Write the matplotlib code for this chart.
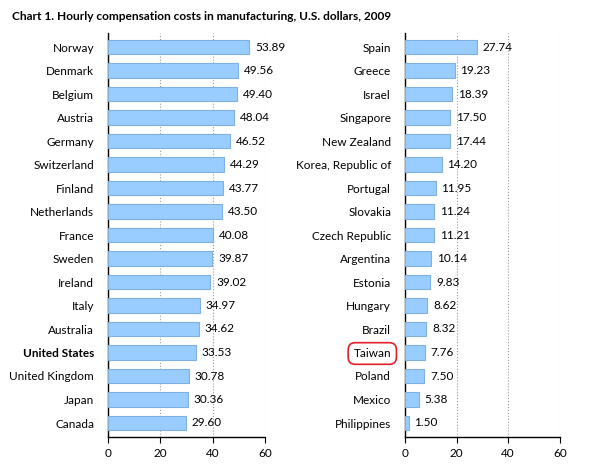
import matplotlib.pyplot as plt

plt.rcParams['font.family'] = ['Lato', 'DejaVu Sans']

# Data
left_countries = ["Norway", "Denmark", "Belgium", "Austria", "Germany", "Switzerland",
                  "Finland", "Netherlands", "France", "Sweden", "Ireland", "Italy",
                  "Australia", "United States", "United Kingdom", "Japan", "Canada"]
left_values = [53.89, 49.56, 49.40, 48.04, 46.52, 44.29, 43.77, 43.50, 40.08, 39.87,
               39.02, 34.97, 34.62, 33.53, 30.78, 30.36, 29.60]

right_countries = ["Spain", "Greece", "Israel", "Singapore", "New Zealand", "Korea, Republic of",
                   "Portugal", "Slovakia", "Czech Republic", "Argentina", "Estonia", "Hungary",
                   "Brazil", "Taiwan", "Poland", "Mexico", "Philippines"]
right_values = [27.74, 19.23, 18.39, 17.50, 17.44, 14.20, 11.95, 11.24, 11.21, 10.14,
                9.83, 8.62, 8.32, 7.76, 7.50, 5.38, 1.50]

x_ticks = [0, 20, 40, 60]

fig = plt.figure(figsize=(6, 4.7), dpi=100)
fig.text(0.02, 0.965, "Chart 1. Hourly compensation costs in manufacturing, U.S. dollars, 2009",
         fontsize=8.6, fontweight="bold", va="center")

ax_left = fig.add_axes([0.18, 0.07, 0.262, 0.86])
ax_right = fig.add_axes([0.675, 0.07, 0.258, 0.86])


def draw_panel(ax, countries, values):
    pos = list(range(len(countries)))
    ax.barh(pos, values, height=0.6, color="#99CCFF", edgecolor="#7FB0E0", linewidth=0.8, zorder=3)
    for p, v in zip(pos, values):
        ax.text(v + 2.2, p, f"{v:.2f}", va="center", ha="left", fontsize=8.5, zorder=4)
    ax.set_yticks(pos)
    ax.set_yticklabels(countries, fontsize=8.5)
    ax.set_ylim(len(countries) - 0.4, -0.6)
    ax.set_xlim(0, 60)
    ax.set_xticks(x_ticks)
    ax.tick_params(axis="y", length=0, pad=10)
    ax.tick_params(axis="x", length=4, labelsize=8.5, pad=4, direction="out")
    ax.grid(axis="x", linestyle=":", color="#999999", linewidth=0.8, zorder=0)
    for s in ["top", "right"]:
        ax.spines[s].set_visible(False)
    ax.spines["left"].set_linewidth(1.0)
    ax.spines["bottom"].set_linewidth(1.0)


draw_panel(ax_left, left_countries, left_values)
draw_panel(ax_right, right_countries, right_values)

# Highlight United States label in bold
for lbl in ax_left.get_yticklabels():
    if lbl.get_text() == "United States":
        lbl.set_fontweight("bold")

# Red rounded box around Taiwan
for lbl in ax_right.get_yticklabels():
    if lbl.get_text() == "Taiwan":
        lbl.set_bbox(dict(boxstyle="round,pad=0.45,rounding_size=0.6", facecolor="none",
                          edgecolor="#E0202A", linewidth=1.2))

fig.savefig("out.png", dpi=100)
